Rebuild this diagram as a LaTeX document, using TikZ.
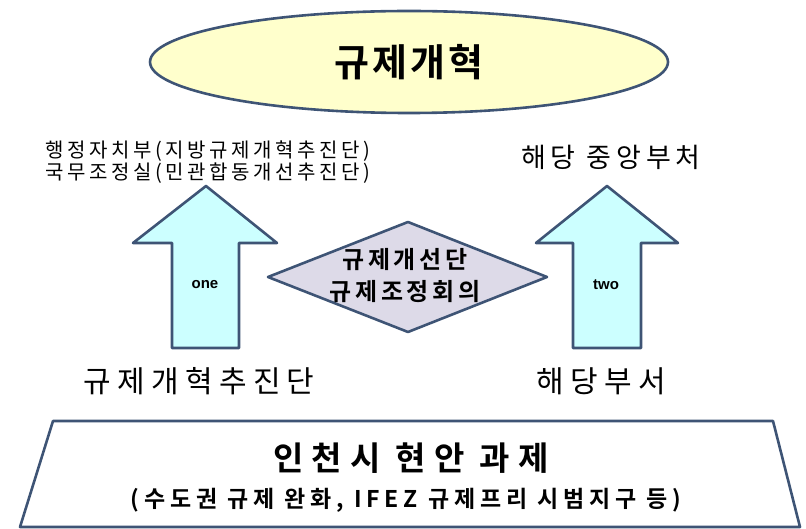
\documentclass[tikz,border=0pt]{standalone}
\usepackage{fontspec}
\newfontfamily\krA[LetterSpace=18]{Noto Sans CJK KR}
\newfontfamily\krE[LetterSpace=21]{Noto Sans CJK KR}
\newfontfamily\krB[LetterSpace=8]{Noto Sans CJK KR Bold}
\newfontfamily\krC[LetterSpace=24]{Noto Sans CJK KR Bold}
\newfontfamily\krD[LetterSpace=16]{Noto Sans CJK KR Bold}
\newfontfamily\krF[LetterSpace=21]{Noto Sans CJK KR Bold}
\newfontfamily\arl{Liberation Sans}
\definecolor{edge}{HTML}{3E5475}
\definecolor{yel}{HTML}{FFFFCC}
\definecolor{cyan1}{HTML}{CCFFFF}
\definecolor{lav}{HTML}{DDDAE8}
\tikzset{
  shapeline/.style={draw=edge, line width=2.6pt, line join=round},
  txt/.style={inner sep=0pt, text=black},
}
\begin{document}
\begin{tikzpicture}[x=1pt,y=-1pt]
\useasboundingbox (0,0) rectangle (806,529);
% top ellipse
\draw[shapeline, fill=yel] (409,62) ellipse [x radius=259, y radius=51];
\node[txt, font={\krB\fontsize{38}{40}\selectfont}] (title) at (409,62) {규제개혁};
% upper labels
\node[txt, font={\krA\fontsize{20}{20}\selectfont}, align=left] (lefttop) at (208,162) {행정자치부(지방규제개혁추진단)\\국무조정실(민관합동개선추진단)};
\node[txt, font={\krA\fontsize{27}{30}\selectfont}] (righttop) at (611,157) {해당 중앙부처};
% arrows
\draw[shapeline, fill=cyan1] (206,186) -- (277,243) -- (239,243) -- (239,348) -- (172,348) -- (172,243) -- (133,243) -- cycle;
\draw[shapeline, fill=cyan1] (607,186) -- (678,243) -- (641,243) -- (641,348) -- (573,348) -- (573,243) -- (536,243) -- cycle;
\node[txt, font={\arl\bfseries\fontsize{15}{16}\selectfont}] (one) at (205,285) {one};
\node[txt, font={\arl\bfseries\fontsize{15}{16}\selectfont}] (two) at (606,285) {two};
% diamond
\draw[shapeline, fill=lav] (408,222) -- (547,277) -- (408,332) -- (268,277) -- cycle;
\node[txt, font={\krD\fontsize{24}{32}\selectfont}, align=center] (dia) at (405,276) {규제개선단\\규제조정회의};
% lower labels
\node[txt, font={\krE\fontsize{30}{33}\selectfont}] (leftbot) at (199,381) {규제개혁추진단};
\node[txt, font={\krE\fontsize{30}{33}\selectfont}] (rightbot) at (601,381) {해당부서};
% trapezoid
\draw[shapeline, fill=white] (53,421) -- (773,421) -- (800,527) -- (20,527) -- cycle;
\node[txt, font={\krC\fontsize{33}{34}\selectfont}] (base1) at (411,458) {인천시 현안 과제};
\node[txt, font={\krF\fontsize{23}{24}\selectfont}] (base2) at (406,500) {(수도권 규제 완화, IFEZ 규제프리 시범지구 등)};
\end{tikzpicture}
\end{document}
